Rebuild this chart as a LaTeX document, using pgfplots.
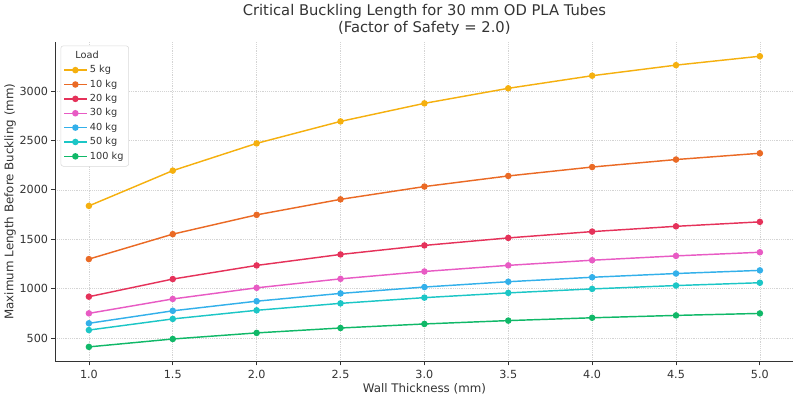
\documentclass[border=0pt]{standalone}
\usepackage{pgfplots}
\pgfplotsset{compat=1.18}
\usepackage{fontspec}
\setmainfont{DejaVu Sans}
\definecolor{c5}{HTML}{F5B00F}
\definecolor{c10}{HTML}{EA6A25}
\definecolor{c20}{HTML}{E5325A}
\definecolor{c30}{HTML}{E85BC4}
\definecolor{c40}{HTML}{33B0EA}
\definecolor{c50}{HTML}{1CC6C6}
\definecolor{c100}{HTML}{10B868}
\definecolor{txt}{HTML}{333333}
\begin{document}
\begin{tikzpicture}
\begin{axis}[
  scale only axis, width=561pt, height=243pt,
  xmin=0.8, xmax=5.2, ymin=263.9, ymax=3498.8,
  xtick={1,1.5,2,2.5,3,3.5,4,4.5,5},
  ytick={500,1000,1500,2000,2500,3000},
  /pgf/number format/assume math mode=true,
  /pgf/number format/1000 sep={},
  xticklabel style={/pgf/number format/fixed, /pgf/number format/fixed zerofill, /pgf/number format/precision=1},
  ticklabel style={font=\fontsize{8.5}{10}\selectfont, text=txt},
  yticklabel style={xshift=1pt},
  axis x line*=bottom, axis y line*=left,
  axis line style={-, black!80, line width=0.8pt},
  tick align=outside, major tick length=3pt, tick style={black!80, line width=0.6pt},
  grid=major, major grid style={densely dotted, black!17, line width=0.5pt},
  title={Critical Buckling Length for 30 mm OD PLA Tubes\\(Factor of Safety = 2.0)},
  title style={align=center, font=\fontsize{11.2}{13}\selectfont, text=txt, yshift=-5pt},
  xlabel={Wall Thickness (mm)}, ylabel={Maximum Length Before Buckling (mm)},
  label style={font=\fontsize{9}{10}\selectfont, text=txt},
  xlabel style={yshift=3pt}, ylabel style={yshift=-4pt},
  legend cell align=left,
  legend style={at={(0.007,0.988)}, anchor=north west, draw=black!15, rounded corners=2pt,
    font=\fontsize{7.4}{8.6}\selectfont, text=txt, row sep=-0.2pt, inner sep=2pt},
  every axis plot/.append style={line width=1.1pt, mark=*, mark size=1.9pt},
]
\addlegendimage{empty legend}
\addlegendentry{\hspace*{-11pt}Load}
\addplot[c5, mark options={fill=c5}] coordinates {(1.0,1837.5) (1.5,2194.3) (2.0,2470.2) (2.5,2692.4) (3.0,2875.1) (3.5,3027.2) (4.0,3154.7) (4.5,3261.8) (5.0,3351.8)};
\addlegendentry{5 kg}
\addplot[c10, mark options={fill=c10}] coordinates {(1.0,1299.3) (1.5,1551.6) (2.0,1746.7) (2.5,1903.8) (3.0,2033.0) (3.5,2140.5) (4.0,2230.7) (4.5,2306.5) (5.0,2370.1)};
\addlegendentry{10 kg}
\addplot[c20, mark options={fill=c20}] coordinates {(1.0,918.8) (1.5,1097.2) (2.0,1235.1) (2.5,1346.2) (3.0,1437.6) (3.5,1513.6) (4.0,1577.4) (4.5,1630.9) (5.0,1675.9)};
\addlegendentry{20 kg}
\addplot[c30, mark options={fill=c30}] coordinates {(1.0,750.2) (1.5,895.8) (2.0,1008.5) (2.5,1099.2) (3.0,1173.8) (3.5,1235.8) (4.0,1287.9) (4.5,1331.6) (5.0,1368.4)};
\addlegendentry{30 kg}
\addplot[c40, mark options={fill=c40}] coordinates {(1.0,649.7) (1.5,775.8) (2.0,873.3) (2.5,951.9) (3.0,1016.5) (3.5,1070.3) (4.0,1115.4) (4.5,1153.2) (5.0,1185.0)};
\addlegendentry{40 kg}
\addplot[c50, mark options={fill=c50}] coordinates {(1.0,581.1) (1.5,693.9) (2.0,781.1) (2.5,851.4) (3.0,909.2) (3.5,957.3) (4.0,997.6) (4.5,1031.5) (5.0,1059.9)};
\addlegendentry{50 kg}
\addplot[c100, mark options={fill=c100}] coordinates {(1.0,410.9) (1.5,490.7) (2.0,552.4) (2.5,602.0) (3.0,642.9) (3.5,676.9) (4.0,705.4) (4.5,729.4) (5.0,749.5)};
\addlegendentry{100 kg}
\end{axis}
\path (current axis.south east) ++(5pt,0);
\end{tikzpicture}
\end{document}
